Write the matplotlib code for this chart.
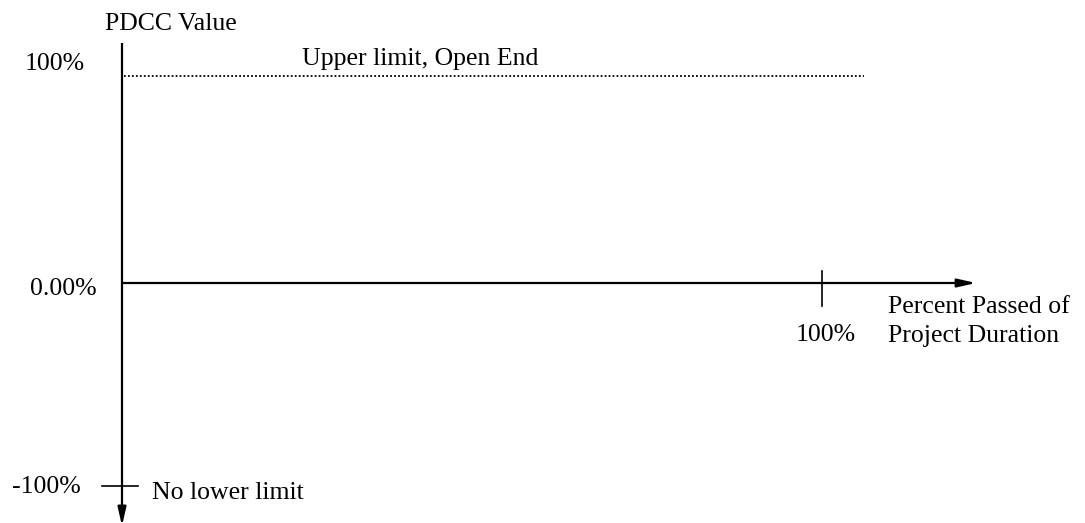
import matplotlib.pyplot as plt

y_ticks = [100, 0, -100]
y_labels = ['100%', '0.00%', '-100%']
x_tick = 100
x_tick_label = '100%'
upper_limit = 100
upper_end = 106          # fin de la ligne pointillée (en % de durée)
x_axis_end = 122         # pointe de la flèche horizontale
y_axis_top = 117
y_axis_bottom = -118.5

plt.rcParams['font.family'] = ['Liberation Serif', 'DejaVu Serif']

fig = plt.figure(figsize=(10.85, 5.23), dpi=100)
ax = fig.add_axes([0, 0, 1, 1])
# 1 unité x = 7 px, 1 unité y = 2.05 px, origine à (122, 283) px
ax.set_xlim(-122 / 7, (1085 - 122) / 7)
ax.set_ylim((283 - 523) / 2.05, 283 / 2.05)
ax.axis('off')

arrow = dict(arrowstyle='-|>,head_length=1.1,head_width=0.25', lw=1.6,
             color='black', shrinkA=0, shrinkB=0)

# axe vertical (flèche vers le bas)
ax.plot([0, 0], [y_axis_top, 0], color='black', lw=1.6, solid_capstyle='butt')
ax.annotate('', xy=(0, y_axis_bottom), xytext=(0, 0), arrowprops=arrow,
            annotation_clip=False)
# axe horizontal
ax.annotate('', xy=(x_axis_end, 0), xytext=(0, 0), arrowprops=arrow,
            annotation_clip=False)

# graduations
ax.plot([x_tick, x_tick], [6, -11], color='black', lw=1.2)
ax.plot([-2.9, 2.3], [y_ticks[2] + 1, y_ticks[2] + 1], color='black', lw=1.2)

# limite haute en pointillés
ax.plot([0.3, upper_end], [upper_limit + 1, upper_limit + 1], color='black',
        lw=1.3, linestyle=(0, (1, 1.2)))

fs = 18.5
ax.text(7, 126.3, 'PDCC Value', fontsize=fs, ha='center', va='center')
ax.text(-5.3, 107, y_labels[0], fontsize=fs, ha='right', va='center')
ax.text(-3.6, -3, y_labels[1], fontsize=fs, ha='right', va='center')
ax.text(-5.9, y_ticks[2] + 0.5, y_labels[2], fontsize=fs, ha='right', va='center')
ax.text(4.3, y_ticks[2] - 2.5, 'No lower limit', fontsize=fs, ha='left', va='center')
ax.text(25.7, 109.5, 'Upper limit, Open End', fontsize=fs, ha='left', va='center')
ax.text(x_tick + 0.6, -25.5, x_tick_label, fontsize=fs, ha='center', va='center')
ax.text(109.5, -11.7, 'Percent Passed of', fontsize=fs, ha='left', va='center')
ax.text(109.5, -26, 'Project Duration', fontsize=fs, ha='left', va='center')

fig.savefig('out.png', dpi=100)
